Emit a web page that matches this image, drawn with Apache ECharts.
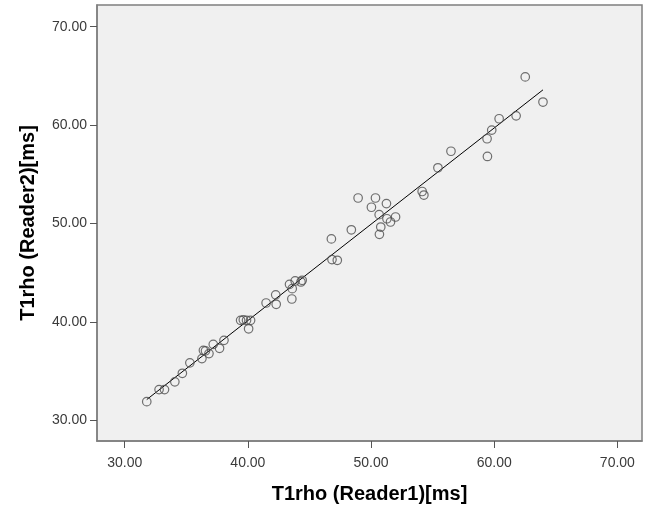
<!DOCTYPE html>
<html>
<head>
<meta charset="utf-8">
<script src="https://cdn.jsdelivr.net/npm/echarts@6/dist/echarts.min.js"></script>
<style>
  html, body { margin: 0; padding: 0; background: #fff; }
  #chart { width: 649px; height: 519px; }
</style>
</head>
<body>
<div id="chart"></div>
<script>
// T1rho measured by reader 1 (x) and reader 2 (y), ms
const reader1 = [
  31.79, 32.79, 33.23, 34.07, 34.68, 35.29, 36.27, 36.39, 36.56, 36.84,
  37.19, 37.70, 38.06, 39.41, 39.63, 39.89, 40.22, 40.06, 41.48, 42.26,
  42.30, 43.38, 43.60, 43.84, 44.31, 44.41, 43.57, 46.83, 47.26, 46.78,
  48.40, 48.95, 50.36, 50.03, 51.25, 50.66, 51.29, 51.58, 51.99, 50.79,
  50.68, 54.15, 54.29, 55.43, 56.49, 59.45, 59.42, 59.80, 60.40, 61.78,
  62.52, 63.96
]
const reader2 = [
  31.90, 33.12, 33.12, 33.91, 34.78, 35.84, 36.27, 37.11, 37.06, 36.78,
  37.72, 37.32, 38.13, 40.16, 40.21, 40.16, 40.16, 39.30, 41.92, 42.75,
  41.79, 43.82, 43.38, 44.16, 44.06, 44.23, 42.33, 46.33, 46.26, 48.43,
  49.36, 52.59, 52.59, 51.65, 52.02, 50.90, 50.48, 50.15, 50.66, 49.64,
  48.90, 53.25, 52.89, 55.66, 57.34, 56.81, 58.61, 59.49, 60.64, 60.94,
  64.89, 62.34
]
const tickValues = [30, 40, 50, 60, 70]

const points = reader1.map((x, i) => [x, reader2[i]])

// least squares fit line
const n = reader1.length
const mx = reader1.reduce((a, b) => a + b, 0) / n
const my = reader2.reduce((a, b) => a + b, 0) / n
let sxy = 0
let sxx = 0
for (let i = 0; i < n; i++) {
  sxy += (reader1[i] - mx) * (reader2[i] - my)
  sxx += (reader1[i] - mx) * (reader1[i] - mx)
}
const slope = sxy / sxx
const icpt = my - slope * mx
const xMin = Math.min(...reader1)
const xMax = Math.max(...reader1)
const fitLine = [[xMin, icpt + slope * xMin], [xMax, icpt + slope * xMax]]

const font = 'Liberation Sans, Arial, sans-serif'

const chart = echarts.init(document.getElementById('chart'))
chart.setOption({
  animation: false,
  grid: {
    left: 97,
    right: 7,
    top: 5,
    bottom: 78,
    show: true,
    backgroundColor: '#f0f0f0',
    borderColor: '#7f7f7f',
    borderWidth: 1.5
  },
  xAxis: {
    type: 'value',
    min: 27.75,
    max: 72.0,
    name: 'T1rho (Reader1)[ms]',
    nameLocation: 'middle',
    nameGap: 43,
    nameTextStyle: { fontFamily: font, fontSize: 20, fontWeight: 'bold', color: '#000' },
    axisLine: { show: true, lineStyle: { color: '#7f7f7f', width: 1.5 } },
    axisTick: { show: true, length: 7, customValues: tickValues, lineStyle: { color: '#555' } },
    axisLabel: {
      customValues: tickValues,
      formatter: v => v.toFixed(2),
      fontFamily: font,
      fontSize: 14,
      color: '#3a3a3a',
      margin: 15
    },
    splitLine: { show: false }
  },
  yAxis: {
    type: 'value',
    min: 27.9,
    max: 72.2,
    name: 'T1rho (Reader2)[ms]',
    nameLocation: 'middle',
    nameGap: 59,
    nameTextStyle: { fontFamily: font, fontSize: 20, fontWeight: 'bold', color: '#000' },
    axisLine: { show: true, lineStyle: { color: '#7f7f7f', width: 1.5 } },
    axisTick: { show: true, length: 7, customValues: tickValues, lineStyle: { color: '#555' } },
    axisLabel: {
      customValues: tickValues,
      formatter: v => v.toFixed(2),
      fontFamily: font,
      fontSize: 14,
      color: '#3a3a3a',
      margin: 10
    },
    splitLine: { show: false }
  },
  series: [
    {
      type: 'line',
      data: fitLine,
      showSymbol: false,
      symbol: 'none',
      lineStyle: { color: '#000', width: 1 },
      z: 2
    },
    {
      type: 'scatter',
      data: points,
      symbol: 'circle',
      symbolSize: 8.5,
      itemStyle: {
        color: 'rgba(0,0,0,0)',
        borderColor: '#4d4d4d',
        borderWidth: 1.2
      },
      z: 3
    }
  ]
})
</script>
</body>
</html>
